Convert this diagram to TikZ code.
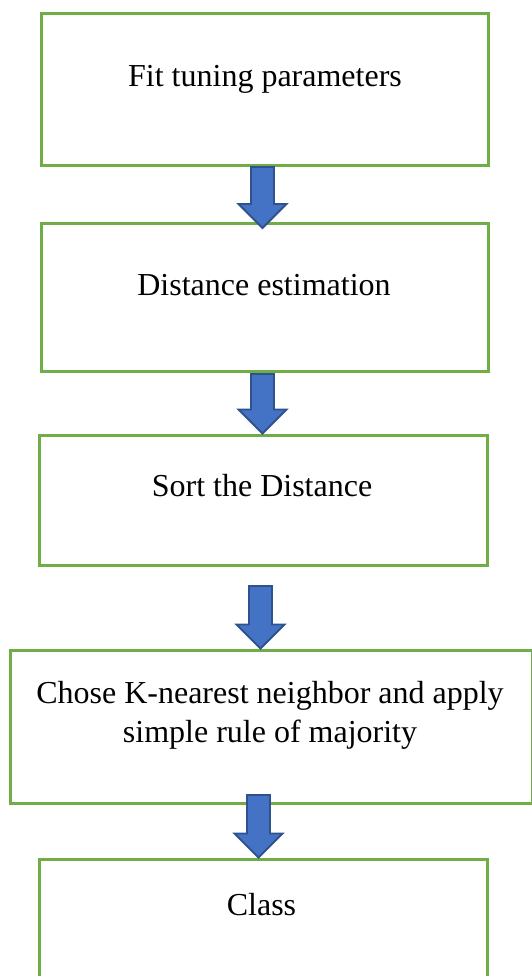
\documentclass[tikz,border=0pt]{standalone}
\usepackage{fontspec}
\setmainfont{Liberation Serif}
\usetikzlibrary{calc}

\definecolor{boxgreen}{HTML}{70AD47}
\definecolor{arrowblue}{HTML}{4472C4}
\definecolor{arrowedge}{HTML}{2F528F}

\tikzset{
  stepbox/.style={draw=boxgreen, line width=3pt, rectangle, inner sep=0pt},
  steptext/.style={font=\fontsize{32}{39}\selectfont, anchor=base, align=center, inner sep=0pt},
  blockarrow/.style={fill=arrowblue, draw=arrowedge, line width=1.8pt, line join=miter}
}

\begin{document}
\begin{tikzpicture}[x=1pt,y=-1pt]
    \useasboundingbox (0,0) rectangle (531,976);

    % boxes
    \node[stepbox, minimum width=447pt, minimum height=152pt] (fit)  at (264.5,89.5) {};
    \node[stepbox, minimum width=447pt, minimum height=147pt] (dist) at (264.5,297.5) {};
    \node[stepbox, minimum width=448pt, minimum height=130pt] (sort) at (263,500) {};
    \node[stepbox, minimum width=522pt, minimum height=153pt] (knn)  at (271,726.5) {};
    \node[stepbox, minimum width=448pt, minimum height=141pt] (cls)  at (263,929.5) {};

    % texts
    \node[steptext] (fittxt)  at (265,87)  {Fit tuning parameters};
    \node[steptext] (disttxt) at (264,295) {Distance estimation};
    \node[steptext] (sorttxt) at (262,496) {Sort the Distance};
    \node[steptext] (knntxt)  at (270,742) {Chose K-nearest neighbor and apply\\simple rule of majority};
    \node[steptext] (clstxt)  at (261.5,915) {Class};

    % arrow ends
    \coordinate (a1s) at (fit.south -| 262.5,0);
    \coordinate (a1t) at (262.5,228);
    \coordinate (a2s) at (262.5,374);
    \coordinate (a2t) at (sort.north -| 262.5,0);
    \coordinate (a3s) at (260.5,586);
    \coordinate (a3t) at (knn.north -| 260.5,0);
    \coordinate (a4s) at (258.5,795);
    \coordinate (a4t) at (cls.north -| 258.5,0);

    \foreach \s/\t in {a1s/a1t, a2s/a2t, a3s/a3t, a4s/a4t}{
      \draw[blockarrow] ($(\s)+(-11.5,0)$) -- ($(\t)+(-11.5,-24)$) -- ($(\t)+(-24,-24)$)
        -- (\t) -- ($(\t)+(24,-24)$) -- ($(\t)+(11.5,-24)$) -- ($(\s)+(11.5,0)$) -- cycle;
    }
\end{tikzpicture}
\end{document}
